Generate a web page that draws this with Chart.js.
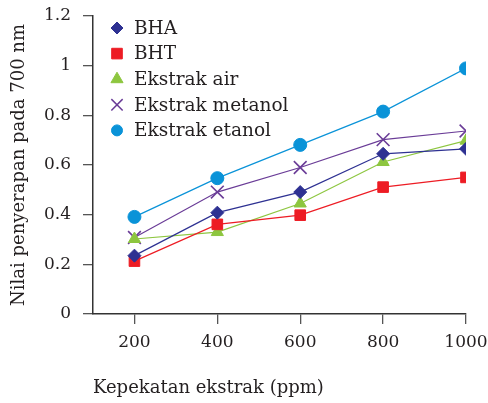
<!DOCTYPE html>
<html>
<head>
<meta charset="utf-8">
<script src="https://cdn.jsdelivr.net/npm/chart.js@4"></script>
<style>
  html, body { margin: 0; padding: 0; background: #fff; }
  #wrap { width: 488px; height: 403px; position: relative; }
</style>
</head>
<body>
<div id="wrap"><canvas id="chart"></canvas></div>
<script>
// x values (ppm)
const concentrations = [200, 400, 600, 800, 1000];
const yTicks = [0, 0.2, 0.4, 0.6, 0.8, 1, 1.2];

// absorbance at 700 nm
const bha = [0.235, 0.408, 0.491, 0.645, 0.665];
const bht = [0.213, 0.361, 0.398, 0.511, 0.55];
const ekstrakAir = [0.302, 0.33, 0.445, 0.612, 0.698];
const ekstrakMetanol = [0.308, 0.491, 0.59, 0.702, 0.737];
const ekstrakEtanol = [0.391, 0.547, 0.681, 0.815, 0.989];

const FONT = '"DejaVu Serif", serif';
const INK = '#231f20';
Chart.defaults.font.family = FONT;
Chart.defaults.font.size = 17;
Chart.defaults.color = INK;

const toPts = (vals) => vals.map((v, i) => ({ x: concentrations[i], y: v }));

const series = [
  { label: 'BHA', data: bha, color: '#2e3192', style: 'rectRot', r: 6.5, lr: 6 },
  { label: 'BHT', data: bht, color: '#ed1c24', style: 'rect', r: 7.5, lr: 7.5 },
  { label: 'Ekstrak air', data: ekstrakAir, color: '#8dc63f', style: 'triangle', r: 7, lr: 7 },
  { label: 'Ekstrak metanol', data: ekstrakMetanol, color: '#6a3c97', style: 'crossRot', r: 9, lr: 8 },
  { label: 'Ekstrak etanol', data: ekstrakEtanol, color: '#0a93d8', style: 'circle', r: 6.5, lr: 5.5 }
];

// legend drawn inside the plot, top left
const innerLegend = {
  id: 'innerLegend',
  afterDraw(chart) {
    const ctx = chart.ctx;
    const x0 = chart.chartArea.left + 24;
    const y0 = chart.chartArea.top + 12;
    ctx.save();
    ctx.font = '18.5px ' + FONT;
    ctx.textBaseline = 'middle';
    ctx.textAlign = 'left';
    series.forEach((s, i) => {
      const y = y0 + i * 25.6;
      ctx.fillStyle = s.color;
      ctx.strokeStyle = s.color;
      ctx.lineWidth = s.style === 'crossRot' ? 1.5 : 1;
      Chart.helpers.drawPoint(ctx, { pointStyle: s.style, radius: s.lr, rotation: 0, borderWidth: ctx.lineWidth }, x0, y);
      ctx.fillStyle = INK;
      ctx.fillText(s.label, x0 + 17, y + 1);
    });
    ctx.restore();
  }
};

new Chart(document.getElementById('chart'), {
  type: 'line',
  data: {
    datasets: series.map(s => ({
      label: s.label,
      data: toPts(s.data),
      borderColor: s.color,
      backgroundColor: s.color,
      borderWidth: 1.2,
      pointStyle: s.style,
      pointRadius: s.r,
      pointBorderWidth: s.style === 'crossRot' ? 1.6 : 1,
      pointBorderColor: s.color,
      pointBackgroundColor: s.color,
      tension: 0
    }))
  },
  options: {
    responsive: true,
    maintainAspectRatio: false,
    animation: false,
    layout: { padding: { top: 16, right: 0, left: 0, bottom: 0 } },
    plugins: {
      tooltip: { enabled: false },
      legend: { display: false }
    },
    scales: {
      x: {
        type: 'linear',
        min: 100,
        max: 1000,
        afterBuildTicks: (scale) => { scale.ticks = concentrations.map(v => ({ value: v })); },
        afterFit: (scale) => { scale.height = 89; scale.paddingRight = 22; scale.paddingLeft = 0; },
        grid: { drawOnChartArea: false, drawTicks: true, tickLength: 10, color: '#555', lineWidth: 1.3 },
        border: { color: '#333', width: 1.5 },
        ticks: { color: INK, padding: 8, maxRotation: 0, font: { size: 17 }, callback: v => String(v) },
        title: { display: true, text: 'Kepekatan ekstrak (ppm)', align: 'start', color: INK, padding: { top: 18 }, font: { size: 18 } }
      },
      y: {
        min: 0,
        max: 1.2,
        afterBuildTicks: (scale) => { scale.ticks = yTicks.map(v => ({ value: v })); },
        afterFit: (scale) => { scale.width = 93; scale.paddingTop = 0; scale.paddingBottom = 0; },
        grid: { drawOnChartArea: false, drawTicks: true, tickLength: 10, color: '#555', lineWidth: 1.3 },
        border: { color: '#333', width: 1.5 },
        ticks: { color: INK, padding: 12, font: { size: 17 }, callback: v => String(v) },
        title: { display: true, text: 'Nilai penyerapan pada 700 nm', color: INK, padding: { top: 9, bottom: 0 }, font: { size: 18 } }
      }
    }
  },
  plugins: [innerLegend]
});
</script>
</body>
</html>
